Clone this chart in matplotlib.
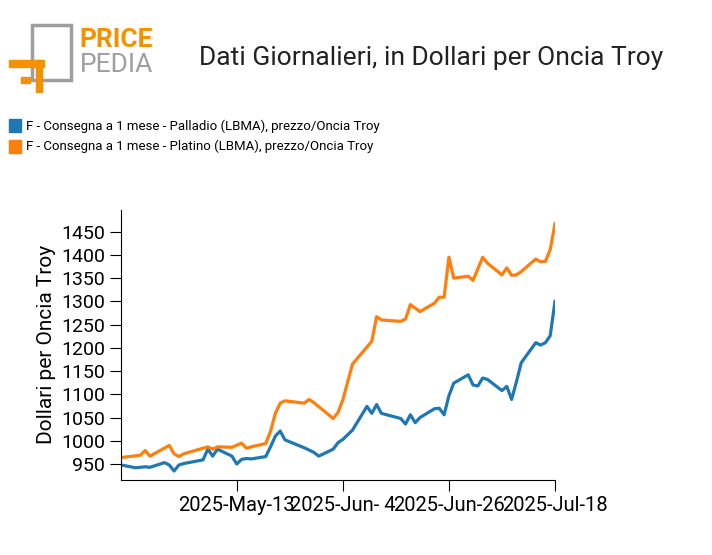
import datetime as dt
import matplotlib
matplotlib.use("Agg")
import matplotlib.pyplot as plt
from matplotlib.patches import Rectangle

# Day offsets from 2025-04-19 and prices
start = dt.date(2025, 4, 19)
plat_days = [0, 4, 5, 6, 10, 11, 12, 13, 17, 18, 19, 20, 23, 25, 26, 27, 30, 31, 32, 33, 34, 38, 39, 40,
             44, 45, 46, 48, 52, 53, 54, 58, 59, 60, 62, 65, 66, 67, 68, 69, 72, 73, 75, 76, 79, 80, 81,
             82, 83, 86, 87, 88, 89, 90]
plat_vals = [964, 969, 979, 967, 990, 972, 966, 972, 984, 987, 982, 987, 986, 995, 984, 987, 994, 1020,
             1059, 1081, 1086, 1081, 1089, 1082, 1048, 1061, 1088, 1165, 1214, 1267, 1260, 1257, 1262,
             1293, 1278, 1296, 1309, 1309, 1395, 1350, 1354, 1345, 1395, 1382, 1357, 1372, 1356, 1357,
             1364, 1391, 1385, 1386, 1411, 1467]
pall_days = [0, 3, 4, 5, 6, 9, 10, 11, 12, 13, 17, 18, 19, 20, 23, 24, 25, 26, 27, 30, 31, 32, 33, 34,
             38, 40, 41, 44, 45, 46, 48, 51, 52, 53, 54, 58, 59, 60, 61, 62, 65, 66, 67, 68, 69, 72, 73,
             74, 75, 76, 79, 80, 81, 82, 83, 86, 87, 88, 89, 90]
pall_vals = [948, 942, 943, 944, 943, 953, 948, 935, 948, 951, 959, 982, 967, 982, 967, 950, 960, 962,
             961, 966, 987, 1010, 1021, 1002, 985, 975, 967, 982, 996, 1003, 1023, 1074, 1059, 1078,
             1059, 1048, 1036, 1056, 1039, 1050, 1069, 1070, 1056, 1097, 1124, 1142, 1120, 1118, 1135,
             1132, 1108, 1117, 1089, 1127, 1168, 1211, 1206, 1211, 1226, 1300]
tick_dates = [dt.date(2025, 5, 13), dt.date(2025, 6, 4), dt.date(2025, 6, 26), dt.date(2025, 7, 18)]
tick_labels = ["2025-May-13", "2025-Jun- 4", "2025-Jun-26", "2025-Jul-18"]
yticks = [950, 1000, 1050, 1100, 1150, 1200, 1250, 1300, 1350, 1400, 1450]

plt.rcParams["font.family"] = "Roboto"
fig = plt.figure(figsize=(7.12, 5.55), dpi=100)
ax = fig.add_axes([0.17, 0.135, 0.6095, 0.487])

pd_dates = [start + dt.timedelta(days=d) for d in pall_days]
pt_dates = [start + dt.timedelta(days=d) for d in plat_days]
ax.plot(pd_dates, pall_vals, color="#1f77b4", lw=2.3)
ax.plot(pt_dates, plat_vals, color="#ff7f0e", lw=2.3)

ax.set_xlim(start, dt.date(2025, 7, 18))
ax.set_ylim(915.5, 1497)
ax.set_yticks(yticks)
ax.set_xticks(tick_dates)
ax.set_xticklabels(tick_labels, fontsize=14.5)
ax.tick_params(axis="y", labelsize=14, length=8)
ax.tick_params(axis="x", length=8)
ax.set_ylabel("Dollari per Oncia Troy", fontsize=15)
for s in ["top", "right"]:
    ax.spines[s].set_visible(False)

fig.text(0.605, 0.895, "Dati Giornalieri, in Dollari per Oncia Troy", fontsize=19,
         ha="center", va="center", color="#222222")

# legend
fig.patches.append(Rectangle((0.012, 0.762), 0.018, 0.024, color="#1f77b4", transform=fig.transFigure))
fig.patches.append(Rectangle((0.012, 0.724), 0.018, 0.024, color="#ff7f0e", transform=fig.transFigure))
fig.text(0.037, 0.773, "F - Consegna a 1 mese - Palladio (LBMA), prezzo/Oncia Troy", fontsize=9.5, va="center")
fig.text(0.037, 0.736, "F - Consegna a 1 mese - Platino (LBMA), prezzo/Oncia Troy", fontsize=9.5, va="center")

# logo
gray = "#9e9e9e"
orange = "#f39200"
fig.patches.append(Rectangle((0.045, 0.855), 0.055, 0.1, fill=False, ec=gray, lw=2.5, transform=fig.transFigure))
fig.patches.append(Rectangle((0.012, 0.88), 0.05, 0.012, color=orange, transform=fig.transFigure))
fig.patches.append(Rectangle((0.05, 0.835), 0.009, 0.057, color=orange, transform=fig.transFigure))
fig.patches.append(Rectangle((0.03, 0.85), 0.012, 0.012, color=orange, transform=fig.transFigure))
fig.text(0.112, 0.928, "PRICE", fontsize=19, fontweight="bold", color=orange, va="center")
fig.text(0.112, 0.882, "PEDIA", fontsize=19, color=gray, va="center")

fig.savefig("out.png", dpi=100)
